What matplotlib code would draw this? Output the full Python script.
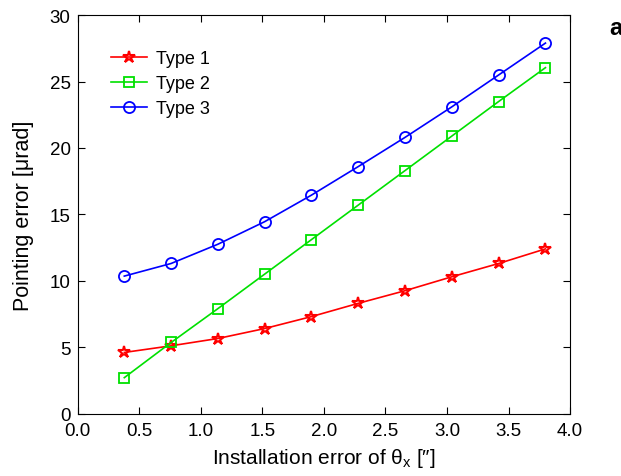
import matplotlib
matplotlib.use("Agg")
import matplotlib.pyplot as plt

plt.rcParams['font.family'] = ['Liberation Sans', 'DejaVu Sans']
plt.rcParams['mathtext.fontset'] = 'custom'
plt.rcParams['mathtext.rm'] = 'Liberation Sans'
plt.rcParams['mathtext.it'] = 'Liberation Sans'

# installation error of theta_x (arcsec)
x_err = [0.38, 0.76, 1.14, 1.52, 1.90, 2.28, 2.66, 3.04, 3.42, 3.80]

# pointing error for each configuration (urad)
type1 = [4.6, 5.1, 5.65, 6.4, 7.3, 8.3, 9.25, 10.3, 11.3, 12.4]
type2 = [2.7, 5.35, 7.9, 10.5, 13.1, 15.7, 18.3, 20.9, 23.5, 26.05]
type3 = [10.35, 11.3, 12.75, 14.45, 16.45, 18.6, 20.8, 23.1, 25.5, 27.9]

xticks = [0.0, 0.5, 1.0, 1.5, 2.0, 2.5, 3.0, 3.5, 4.0]
yticks = [0, 5, 10, 15, 20, 25, 30]

fig = plt.figure(figsize=(6.21, 4.77), dpi=100)
ax = fig.add_axes([0.1248, 0.131, 0.7932, 0.835])

ax.plot(x_err, type1, color='red', marker='*', markersize=9, markerfacecolor='none',
        markeredgewidth=1.5, linewidth=1.2, label='Type 1')
ax.plot(x_err, type2, color='#00e000', marker='s', markersize=7, markerfacecolor='none',
        markeredgewidth=1.3, linewidth=1.2, label='Type 2')
ax.plot(x_err, type3, color='blue', marker='o', markersize=8, markerfacecolor='none',
        markeredgewidth=1.3, linewidth=1.2, label='Type 3')

ax.set_xlim(0, 4)
ax.set_ylim(0, 30)
ax.set_xticks(xticks)
ax.set_xticklabels([f'{t:.1f}' for t in xticks])
ax.set_yticks(yticks)
ax.tick_params(direction='in', top=True, right=True, labelsize=13.5, length=5, pad=5)
ax.tick_params(axis='x', pad=6)

ax.set_xlabel('Installation error of θ$_{\\mathrm{x}}$ [″]', fontsize=15, labelpad=5)
ax.set_ylabel('Pointing error [μrad]', fontsize=15.5, labelpad=11)

ax.legend(loc='upper left', frameon=False, fontsize=13, bbox_to_anchor=(0.045, 0.94),
          handlelength=2.0, handletextpad=0.5, labelspacing=0.45, borderaxespad=0.2)

fig.text(0.981, 0.94, 'a', fontsize=17, fontweight='bold', ha='left', va='center')

fig.savefig('out.png', dpi=100)
